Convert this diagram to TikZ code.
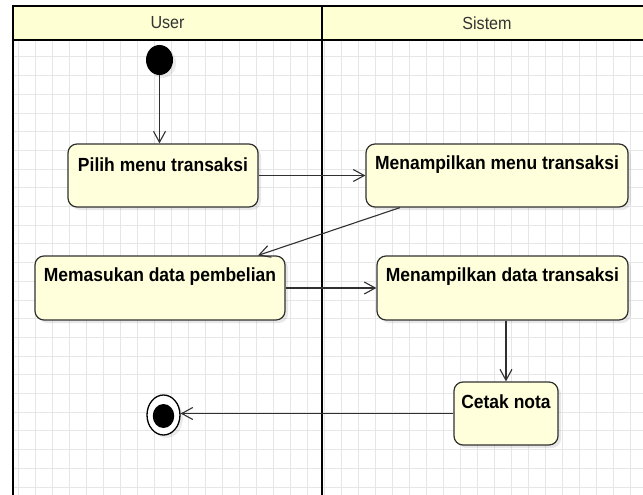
\documentclass[tikz,border=0pt]{standalone}
\usepackage{fontspec}
\setmainfont{Liberation Sans}
\newfontfamily\condfont[FakeStretch=0.92]{Liberation Sans}
\usetikzlibrary{arrows.meta,shadows,shapes.geometric}
\definecolor{headfill}{HTML}{FFFFD4}
\definecolor{boxfill}{HTML}{FFFFDC}
\definecolor{gridc}{HTML}{E6E6E6}
\definecolor{linec}{HTML}{303030}
\begin{document}
\begin{tikzpicture}[x=1pt,y=-1pt,
  act/.style={draw=linec, line width=1.2pt, fill=boxfill, rounded corners=9pt,
    drop shadow={shadow xshift=3pt, shadow yshift=-3pt, opacity=0.18, fill=gray},
    inner sep=0pt},
  acttext/.style={font=\condfont\fontsize{19}{22}\selectfont\bfseries, text=black},
  flow/.style={draw=linec, line width=1.1pt, -{Straight Barb[length=11pt,width=12pt,line width=1.1pt]}},
  lanehead/.style={font=\condfont\fontsize{17.5}{20}\selectfont, text=black!80},
  frame/.style={draw=black, line width=2.2pt}
]
\useasboundingbox (0,0) rectangle (643,495);
\fill[white] (0,0) rectangle (643,495);
% grid
\begin{scope}
\clip (13,40) rectangle (643,495);
\foreach \i in {0,...,37} \draw[gridc, line width=0.6pt] ({18.7+17*\i},40) -- ({18.7+17*\i},495);
\foreach \j in {0,...,24} \draw[gridc, line width=0.6pt] (13,{56.7+18.7*\j}) -- (643,{56.7+18.7*\j});
\end{scope}
% header and lanes
\fill[headfill] (13,6) rectangle (660,40);
\draw[frame] (660,6) -- (13,6) -- (13,500);
\draw[frame] (13,40) -- (660,40);
\draw[frame] (322,6) -- (322,500);
\node[lanehead] (huser) at (167.5,23) {User};
\node[lanehead] (hsis) at (487,23) {Sistem};
% initial and final nodes
\node[ellipse, fill=black, minimum width=27pt, minimum height=30pt, inner sep=0pt,
  drop shadow={shadow xshift=3pt, shadow yshift=-3pt, opacity=0.15, fill=gray}] (init) at (159.5,60) {};
\node[ellipse, draw=black, line width=1.3pt, fill=white, minimum width=33pt, minimum height=40pt, inner sep=0pt,
  drop shadow={shadow xshift=3pt, shadow yshift=-3pt, opacity=0.15, fill=gray}] (final) at (163.5,415) {};
\node[ellipse, fill=black, minimum width=21.5pt, minimum height=24pt, inner sep=0pt] (finalin) at (163.5,416) {};
% activities
\node[act, minimum width=190pt, minimum height=63pt,
  label={[acttext, anchor=center, yshift=-21pt]north:Pilih menu transaksi}] (pilih) at (163,175.5) {};
\node[act, minimum width=262pt, minimum height=63pt,
  label={[acttext, anchor=center, yshift=-21pt]north:Menampilkan menu transaksi}] (menu) at (497,175.5) {};
\node[act, minimum width=250pt, minimum height=64pt,
  label={[acttext, anchor=center, yshift=-21pt]north:Memasukan data pembelian}] (masuk) at (160,288) {};
\node[act, minimum width=251pt, minimum height=64pt,
  label={[acttext, anchor=center, yshift=-21pt]north:Menampilkan data transaksi}] (tampil) at (502.5,288) {};
\node[act, minimum width=104pt, minimum height=63pt,
  label={[acttext, anchor=center, yshift=-20pt]north:Cetak nota}] (cetak) at (506,413.5) {};
% flows
\draw[flow] (init) -- (init |- pilih.north);
\draw[flow] (pilih.east) -- (menu.west);
\draw[flow] ([xshift=-97pt]menu.south) -- ([xshift=98pt]masuk.north);
\draw[flow] (masuk.east) -- (tampil.west);
\draw[flow] (cetak.north |- tampil.south) -- (cetak.north);
\draw[flow] (cetak.west) -- (cetak.west -| final.east);
\end{tikzpicture}
\end{document}
